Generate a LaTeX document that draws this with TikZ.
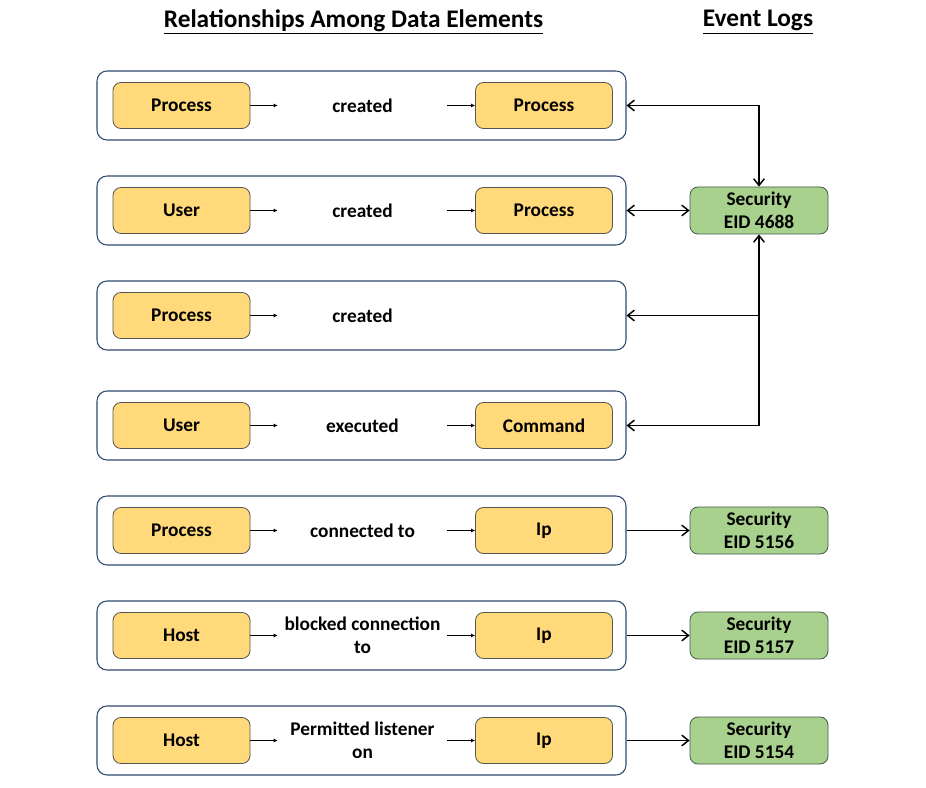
\documentclass[tikz,border=0pt]{standalone}
\usepackage{fontspec}
\setmainfont{Carlito}
\usetikzlibrary{positioning,arrows.meta}
\definecolor{entfill}{HTML}{FFD97A}
\definecolor{entdraw}{HTML}{555555}
\definecolor{logfill}{HTML}{A9D18E}
\definecolor{logdraw}{HTML}{3E5C48}
\definecolor{reldraw}{HTML}{2F4B6E}

\begin{document}
\begin{tikzpicture}[x=0.75pt,y=-0.75pt,
font=\fontsize{14.5}{17.25}\selectfont\bfseries,
rowbox/.style={draw=reldraw,fill=white,rounded corners=7.5pt,minimum width=396.75pt,minimum height=51.75pt,line width=0.8pt},
ent/.style={draw=entdraw,fill=entfill,rounded corners=6pt,minimum width=102.75pt,minimum height=34.5pt,line width=0.6pt},
evlog/.style={draw=logdraw,fill=logfill,rounded corners=6pt,minimum width=103.5pt,minimum height=35.25pt,line width=0.6pt,align=center,inner sep=1pt},
rel/.style={minimum width=126.75pt,align=center,inner sep=0pt},
link/.style={line width=0.9pt,-{Latex[length=3pt,width=3pt]}},
logarr/.style={line width=1.1pt,-{Straight Barb[length=5pt,width=8pt]}},
bothlog/.style={logarr,{Straight Barb[length=5pt,width=8pt]}-{Straight Barb[length=5pt,width=8pt]}},
title/.style={font=\fontsize{19}{22}\selectfont\bfseries}]
\useasboundingbox (0,0) rectangle (926,788);

% titles
\node (ttl) [title] at (353.5,22) {\underline{Relationships Among Data Elements}};
\node (ttr) [title] at (758,22) {\underline{Event Logs}};

% row 1
\node (r1) [rowbox] at (361.5,105.5) {};
\node (s1) [ent] at (181.5,105.5) {Process};
\node (l1) [rel] at (362.5,105.5) {created};
\node (d1) [ent] at (544,105.5) {Process};
\draw [link] (s1) -- (l1);
\draw [link] (l1) -- (d1);

% row 2
\node (r2) [rowbox] at (361.5,210.5) {};
\node (s2) [ent] at (181.5,210.5) {User};
\node (l2) [rel] at (362.5,210.5) {created};
\node (d2) [ent] at (544,210.5) {Process};
\draw [link] (s2) -- (l2);
\draw [link] (l2) -- (d2);

% row 3
\node (r3) [rowbox] at (361.5,315.5) {};
\node (s3) [ent] at (181.5,315.5) {Process};
\node (l3) [rel] at (362.5,315.5) {created};
\draw [link] (s3) -- (l3);

% row 4
\node (r4) [rowbox] at (361.5,425.5) {};
\node (s4) [ent] at (181.5,425.5) {User};
\node (l4) [rel] at (362.5,425.5) {executed};
\node (d4) [ent] at (544,425.5) {Command};
\draw [link] (s4) -- (l4);
\draw [link] (l4) -- (d4);

% row 5
\node (r5) [rowbox] at (361.5,530.5) {};
\node (s5) [ent] at (181.5,530.5) {Process};
\node (l5) [rel] at (362.5,530.5) {connected to};
\node (d5) [ent] at (544,530.5) {Ip};
\draw [link] (s5) -- (l5);
\draw [link] (l5) -- (d5);

% row 6
\node (r6) [rowbox] at (361.5,635.5) {};
\node (s6) [ent] at (181.5,635.5) {Host};
\node (l6) [rel] at (362.5,635.5) {blocked connection\\to};
\node (d6) [ent] at (544,635.5) {Ip};
\draw [link] (s6) -- (l6);
\draw [link] (l6) -- (d6);

% row 7
\node (r7) [rowbox] at (361.5,740.5) {};
\node (s7) [ent] at (181.5,740.5) {Host};
\node (l7) [rel] at (362.5,740.5) {Permitted listener\\on};
\node (d7) [ent] at (544,740.5) {Ip};
\draw [link] (s7) -- (l7);
\draw [link] (l7) -- (d7);

% event logs
\node (e4688) [evlog] at (759,210.5) {Security\\EID 4688};
\node (e5156) [evlog] at (759,530.5) {Security\\EID 5156};
\node (e5157) [evlog] at (759,635.5) {Security\\EID 5157};
\node (e5154) [evlog] at (759,740.5) {Security\\EID 5154};

\draw [bothlog] (r1.east) -| (e4688.north);
\draw [bothlog] (r2.east) -- (e4688.west);
\draw [bothlog] (e4688.south) |- (r4.east);
\draw [logarr] (e4688.south |- r3.east) -- (r3.east);
\draw [logarr] (r5.east) -- (e5156.west);
\draw [logarr] (r6.east) -- (e5157.west);
\draw [logarr] (r7.east) -- (e5154.west);
\end{tikzpicture}
\end{document}
